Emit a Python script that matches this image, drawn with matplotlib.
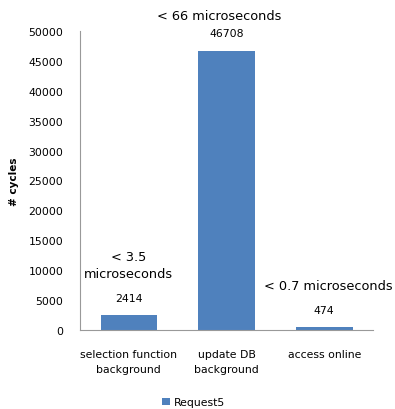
import matplotlib
matplotlib.use("Agg")
from matplotlib import pyplot as plt

categories = ["selection function\nbackground", "update DB\nbackground", "access online"]
cycles = [2414, 46708, 474]
notes = ["< 3.5\nmicroseconds", "< 66 microseconds", "< 0.7 microseconds"]
note_y = [10900, 52600, 7500]
yticks = [0, 5000, 10000, 15000, 20000, 25000, 30000, 35000, 40000, 45000, 50000]

blue = "#4F81BD"
plt.rcParams['font.family'] = ['DejaVu Sans']

fig = plt.figure(figsize=(3.95, 4.10), dpi=100)
ax = fig.add_axes([0.2025, 0.193, 0.742, 0.729])

x = list(range(len(categories)))
bars = ax.bar(x, cycles, width=0.58, color=blue, label="Request5")

ax.set_xlim(-0.5, 2.5)
ax.set_ylim(0, 50000)
ax.set_yticks(yticks)
ax.set_yticklabels([str(t) for t in yticks], fontsize=7.8)
ax.set_xticks(x)
ax.set_xticklabels(categories, fontsize=7.8, linespacing=1.6)
ax.tick_params(axis='x', length=0, pad=14)
ax.tick_params(axis='y', length=0, pad=12)

for s in ['top', 'right']:
    ax.spines[s].set_visible(False)
for s in ['left', 'bottom']:
    ax.spines[s].set_color("#999999")

for xi, v in zip(x, cycles):
    ax.annotate(str(v), (xi, v), xytext=(0, 9), textcoords="offset points",
                ha='center', va='bottom', fontsize=7.8)

for xi, t, ny in zip(x, notes, note_y):
    ax.text(xi + (0.04 if xi == 2 else -0.08 if xi == 1 else 0), ny, t,
            ha='center', va='center', fontsize=9.3, clip_on=False, linespacing=1.4)

ax.set_ylabel("# cycles", fontsize=7.5, fontweight='bold', labelpad=7)

fig.legend(handles=[bars], labels=["Request5"], loc='center', bbox_to_anchor=(0.49, 0.016),
           frameon=False, fontsize=7.8, handlelength=0.7, handleheight=0.7, handletextpad=0.4)

fig.savefig("out.png", dpi=100)
